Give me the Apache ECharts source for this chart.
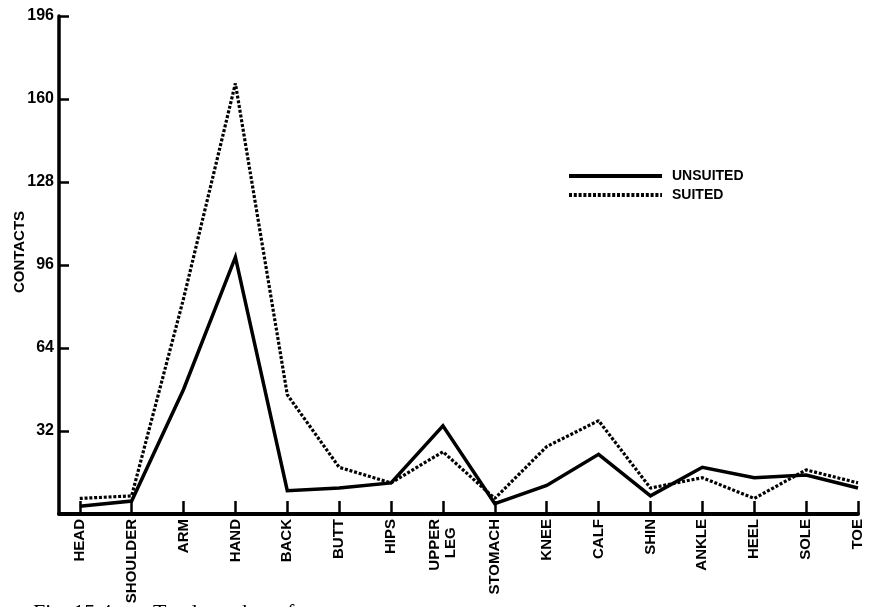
<!DOCTYPE html>
<html>
<head>
<meta charset="utf-8">
<script src="https://cdn.jsdelivr.net/npm/echarts@6/dist/echarts.min.js"></script>
<style>
html,body{margin:0;padding:0;background:#fff;}
#chart{width:870px;height:607px;}
</style>
</head>
<body>
<div id="chart"></div>
<script>
const categories = ['HEAD','SHOULDER','ARM','HAND','BACK','BUTT','HIPS','UPPER\nLEG  ','STOMACH','KNEE','CALF','SHIN','ANKLE','HEEL','SOLE','TOE'];
const unsuited = [3, 5, 48, 99, 9, 10, 12, 34, 4, 11, 23, 7, 18, 14, 15, 10];
const suited   = [6, 7, 83, 166, 46, 18, 12, 24, 6, 26, 36, 10, 14, 6, 17, 12];
const yTickValues = [0, 32, 64, 96, 128, 160, 192];
const yTickLabels = ['', '32', '64', '96', '128', '160', '196'];
const seriesNames = ['UNSUITED', 'SUITED'];
const yAxisTitle = 'CONTACTS';
const captionParts = ['Fig. 15.4', 'Total number of contacts'];

const catIdx = categories.map((c, i) => i);
const toPts = arr => arr.map((v, i) => [i, v]);

const chart = echarts.init(document.getElementById('chart'), null, {renderer: 'canvas'});
const font = 'Liberation Sans, Arial, sans-serif';
chart.setOption({
  animation: false,
  backgroundColor: '#ffffff',
  grid: {left: 59, right: 12, top: 16, bottom: 93, containLabel: false},
  legend: {
    orient: 'vertical',
    left: 562,
    top: 164,
    itemWidth: 93,
    itemHeight: 14,
    itemGap: 5,
    data: seriesNames,
    itemStyle: {opacity: 0},
    lineStyle: {width: 4},
    textStyle: {fontFamily: font, fontWeight: 'bold', fontSize: 14, color: '#000', padding: [0, 0, 0, 5]}
  },
  xAxis: {
    type: 'value',
    min: -0.4,
    max: 15,
    axisLine: {show: true, onZero: false, lineStyle: {color: '#000', width: 4}},
    axisTick: {show: true, inside: true, length: 13, customValues: catIdx, lineStyle: {color: '#000', width: 2.5}},
    splitLine: {show: false},
    axisLabel: {
      customValues: catIdx,
      rotate: 90,
      margin: 5,
      fontFamily: font, fontWeight: 'bold', fontSize: 15, color: '#000', lineHeight: 16,
      formatter: v => categories[Math.round(v)]
    }
  },
  yAxis: {
    type: 'value',
    min: 0,
    max: 192,
    interval: 32,
    axisLine: {show: true, onZero: false, lineStyle: {color: '#000', width: 3.5}},
    axisTick: {show: true, inside: true, length: 10, customValues: yTickValues, lineStyle: {color: '#000', width: 2.5}},
    splitLine: {show: false},
    axisLabel: {
      customValues: yTickValues,
      margin: 5,
      fontFamily: font, fontWeight: 'bold', fontSize: 16, color: '#000',
      formatter: v => yTickLabels[yTickValues.indexOf(Math.round(v))]
    }
  },
  graphic: [
    {type: 'text', x: 20, y: 252, rotation: Math.PI / 2,
     style: {text: yAxisTitle, fontFamily: font, fontWeight: 'bold', fontSize: 15, fill: '#000', align: 'center', verticalAlign: 'middle'}},
    {type: 'text', x: 33, y: 602,
     style: {text: captionParts[0], fontFamily: 'Liberation Serif, serif', fontSize: 22, fill: '#000', align: 'left', verticalAlign: 'top'}},
    {type: 'text', x: 153, y: 602,
     style: {text: captionParts[1], fontFamily: 'Liberation Serif, serif', fontSize: 22, fill: '#000', align: 'left', verticalAlign: 'top'}}
  ],
  series: [
    {
      name: seriesNames[0], type: 'line', data: toPts(unsuited),
      symbol: 'none', color: '#000',
      lineStyle: {color: '#000', width: 3.5, type: 'solid', join: 'miter'}
    },
    {
      name: seriesNames[1], type: 'line', data: toPts(suited),
      symbol: 'none', color: '#000',
      lineStyle: {color: '#000', width: 3.2, type: [3, 1.8], cap: 'butt'}
    }
  ]
});
</script>
</body>
</html>
